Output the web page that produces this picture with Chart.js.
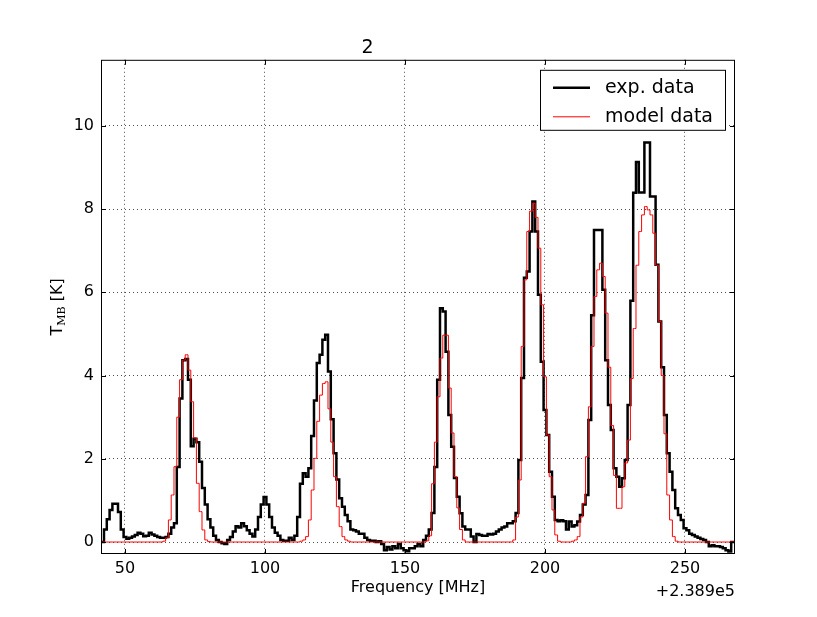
<!DOCTYPE html>
<html>
<head>
<meta charset="utf-8">
<script src="https://cdn.jsdelivr.net/npm/chart.js@4.4.1/dist/chart.umd.min.js"></script>
<style>
  html, body { margin: 0; padding: 0; background: #fff; overflow: hidden; }
</style>
</head>
<body>
<canvas id="spec" width="817" height="617"></canvas>
<script>
// channel frequencies, MHz above 2.389e5
const freq = [
  41, 42, 43, 44, 45, 46, 47, 48, 49, 50,
  51, 52, 53, 54, 55, 56, 57, 58, 59, 60,
  61, 62, 63, 64, 65, 66, 67, 68, 69, 70,
  71, 72, 73, 74, 75, 76, 77, 78, 79, 80,
  81, 82, 83, 84, 85, 86, 87, 88, 89, 90,
  91, 92, 93, 94, 95, 96, 97, 98, 99, 100,
  101, 102, 103, 104, 105, 106, 107, 108, 109, 110,
  111, 112, 113, 114, 115, 116, 117, 118, 119, 120,
  121, 122, 123, 124, 125, 126, 127, 128, 129, 130,
  131, 132, 133, 134, 135, 136, 137, 138, 139, 140,
  141, 142, 143, 144, 145, 146, 147, 148, 149, 150,
  151, 152, 153, 154, 155, 156, 157, 158, 159, 160,
  161, 162, 163, 164, 165, 166, 167, 168, 169, 170,
  171, 172, 173, 174, 175, 176, 177, 178, 179, 180,
  181, 182, 183, 184, 185, 186, 187, 188, 189, 190,
  191, 192, 193, 194, 195, 196, 197, 198, 199, 200,
  201, 202, 203, 204, 205, 206, 207, 208, 209, 210,
  211, 212, 213, 214, 215, 216, 217, 218, 219, 220,
  221, 222, 223, 224, 225, 226, 227, 228, 229, 230,
  231, 232, 233, 234, 235, 236, 237, 238, 239, 240,
  241, 242, 243, 244, 245, 246, 247, 248, 249, 250,
  251, 252, 253, 254, 255, 256, 257, 258, 259, 260,
  261, 262, 263, 264, 265, 266, 267, 268
];

// measured spectrum, T_MB in K
const expData = [
  0.0, 0.0, 0.3, 0.55, 0.77, 0.92, 0.92, 0.72, 0.3, 0.12,
  0.08, 0.1, 0.13, 0.17, 0.22, 0.2, 0.14, 0.15, 0.22, 0.18,
  0.15, 0.12, 0.1, 0.1, 0.12, 0.2, 0.35, 0.45, 1.8, 3.45,
  4.37, 4.4, 3.9, 2.3, 2.48, 2.4, 1.93, 1.3, 0.9, 0.55,
  0.35, 0.15, 0.05, 0.0, -0.03, -0.05, 0.05, 0.12, 0.25, 0.38,
  0.35, 0.45, 0.38, 0.28, 0.2, 0.13, 0.3, 0.6, 0.9, 1.08,
  0.9, 0.6, 0.35, 0.22, 0.15, 0.05, 0.03, 0.03, 0.1, 0.05,
  0.15, 0.6, 1.4, 1.65, 1.57, 1.77, 2.55, 3.4, 4.3, 4.5,
  4.86, 4.98, 4.1, 2.95, 2.13, 1.5, 1.05, 0.85, 0.65, 0.5,
  0.3, 0.28, 0.25, 0.2, 0.2, 0.1, 0.05, 0.03, 0.03, 0.0,
  0.02, -0.05, -0.2, -0.12, -0.18, -0.1, -0.15, -0.05, -0.15, -0.2,
  -0.22, -0.15, -0.15, -0.1, -0.05, -0.1, 0.05, 0.15, 0.3, 0.7,
  1.8, 3.9, 5.62, 5.54, 4.57, 3.05, 2.29, 1.54, 1.09, 0.69,
  0.37, 0.3, 0.3, 0.13, 0.0, 0.19, 0.17, 0.15, 0.15, 0.19,
  0.18, 0.2, 0.25, 0.3, 0.35, 0.37, 0.45, 0.45, 0.5, 0.7,
  1.97, 3.94, 6.35, 6.5, 7.46, 8.18, 7.46, 5.94, 4.33, 3.17,
  2.57, 1.69, 1.09, 0.53, 0.5, 0.52, 0.5, 0.3, 0.49, 0.37,
  0.4, 0.49, 0.65, 0.9, 1.13, 2.93, 5.45, 7.5, 7.5, 7.5,
  6.06, 4.37, 3.29, 2.69, 1.77, 1.57, 1.33, 1.53, 1.97, 3.29,
  5.8, 8.39, 9.13, 8.4, 8.4, 9.6, 9.6, 8.3, 8.3, 6.66,
  5.3, 4.2, 3.05, 2.13, 1.69, 1.25, 0.81, 0.65, 0.53, 0.33,
  0.28, 0.2, 0.17, 0.13, 0.1, 0.07, 0.05, 0.0, -0.1, -0.08,
  -0.1, -0.1, -0.12, -0.15, -0.2, -0.23, 0.0, 0.0
];

// model spectrum
const modelData = [
  0, 0, 0, 0, 0, 0, 0, 0, 0, 0,
  0, 0, 0, 0, 0, 0, 0, 0, 0, 0,
  0, 0, 0, 0.02, 0.1, 0.53, 1.13, 1.81, 3.0, 3.9,
  4.37, 4.5, 4.13, 3.37, 2.5, 1.41, 0.73, 0.29, 0.05, 0.01,
  0, 0, 0, 0, 0, 0, 0, 0, 0, 0,
  0, 0, 0, 0, 0, 0, 0, 0, 0, 0,
  0, 0, 0, 0, 0, 0, 0, 0, 0, 0,
  0, 0, 0.02, 0.05, 0.13, 0.53, 1.25, 2.01, 2.9, 3.53,
  3.81, 3.85, 3.2, 2.4, 1.57, 0.85, 0.37, 0.13, 0.05, 0.02,
  0, 0, 0, 0, 0, 0, 0, 0, 0, 0,
  0, 0, 0, 0, 0, 0, 0, 0, 0, 0,
  0, 0, 0, 0, 0, 0, 0, 0.03, 0.15, 1.4,
  2.4, 3.49, 4.42, 4.97, 4.97, 3.7, 2.62, 1.57, 0.82, 0.3,
  0.05, 0, 0, 0, 0, 0, 0, 0, 0, 0,
  0, 0, 0, 0, 0, 0, 0, 0, 0.05, 0.6,
  1.49, 4.7, 6.3, 7.46, 7.95, 8.14, 7.8, 7.06, 5.7, 3.97,
  2.57, 1.57, 0.77, 0.17, 0.02, 0, 0, 0, 0, 0.02,
  0.05, 0.13, 0.6, 0.93, 2.05, 3.25, 4.7, 5.9, 6.54, 6.7,
  6.38, 5.5, 4.2, 2.8, 1.6, 0.81, 0.81, 1.33, 1.9, 2.45,
  3.93, 5.13, 6.65, 7.46, 7.86, 8.06, 7.98, 7.86, 7.42, 6.65,
  5.3, 4.0, 2.6, 1.13, 0.53, 0.13, 0.02, 0, 0, 0,
  0, 0, 0, 0, 0, 0, 0, 0, 0, 0,
  0, 0, 0, 0, 0, 0, 0, 0
];

const xTicks = [50, 100, 150, 200, 250];
const yTicks = [0, 2, 4, 6, 8, 10];

Chart.defaults.font.family = "'DejaVu Sans', sans-serif";
Chart.defaults.color = '#000';

// frame, inward ticks, legend box, y label and offset text (matplotlib look)
const decor = {
  id: 'decor',
  afterDraw(chart) {
    const { ctx, chartArea: a, scales: { x, y } } = chart;
    ctx.save();
    ctx.strokeStyle = '#000';
    ctx.lineWidth = 1;
    ctx.strokeRect(a.left + 0.5, a.top + 0.5, a.right - a.left - 1, a.bottom - a.top - 1);

    ctx.beginPath();
    xTicks.forEach(v => {
      const px = Math.round(x.getPixelForValue(v)) + 0.5;
      ctx.moveTo(px, a.bottom); ctx.lineTo(px, a.bottom - 5);
      ctx.moveTo(px, a.top); ctx.lineTo(px, a.top + 5);
    });
    yTicks.forEach(v => {
      const py = Math.round(y.getPixelForValue(v)) + 0.5;
      ctx.moveTo(a.left, py); ctx.lineTo(a.left + 5, py);
      ctx.moveTo(a.right, py); ctx.lineTo(a.right - 5, py);
    });
    ctx.stroke();

    // legend
    const lx = a.right - 195, ly = a.top + 10, lw = 185, lh = 60;
    ctx.fillStyle = '#fff';
    ctx.fillRect(lx, ly, lw, lh);
    ctx.strokeRect(lx + 0.5, ly + 0.5, lw, lh);
    chart.data.datasets.forEach((ds, i) => {
      const yy = ly + 18 + i * 29;
      ctx.strokeStyle = ds.borderColor;
      ctx.lineWidth = ds.borderWidth;
      ctx.beginPath();
      ctx.moveTo(lx + 13, yy); ctx.lineTo(lx + 50, yy);
      ctx.stroke();
      ctx.fillStyle = '#000';
      ctx.font = "19px 'DejaVu Sans'";
      ctx.textBaseline = 'middle';
      ctx.textAlign = 'left';
      ctx.fillText(ds.label, lx + 65, yy);
    });

    // y axis label T_MB [K]
    ctx.save();
    ctx.translate(58, (a.top + a.bottom) / 2);
    ctx.rotate(-Math.PI / 2);
    ctx.fillStyle = '#000';
    ctx.textBaseline = 'middle';
    ctx.textAlign = 'left';
    const fMain = "16px 'DejaVu Sans'";
    const fSub = "11px 'DejaVu Serif'";
    ctx.font = fMain; const wT = ctx.measureText('T').width; const wK = ctx.measureText(' [K]').width;
    ctx.font = fSub; const wS = ctx.measureText('MB').width;
    let sx = -(wT + wS + wK) / 2;
    ctx.font = fMain; ctx.fillText('T', sx, 0); sx += wT;
    ctx.font = fSub; ctx.fillText('MB', sx, 4); sx += wS;
    ctx.font = fMain; ctx.fillText(' [K]', sx, 0);
    ctx.restore();

    // axis offset
    ctx.fillStyle = '#000';
    ctx.font = "16px 'DejaVu Sans'";
    ctx.textAlign = 'right';
    ctx.textBaseline = 'middle';
    ctx.fillText('+2.389e5', a.right, a.bottom + 38);
    ctx.restore();
  }
};

new Chart(document.getElementById('spec'), {
  type: 'line',
  data: {
    datasets: [
      {
        label: 'exp. data',
        data: freq.map((f, i) => ({ x: f, y: expData[i] })),
        borderColor: '#000',
        borderWidth: 2.5,
        stepped: 'middle',
        pointRadius: 0,
        fill: false,
        order: 1
      },
      {
        label: 'model data',
        data: freq.map((f, i) => ({ x: f, y: modelData[i] })),
        borderColor: '#ff0000',
        borderWidth: 1,
        stepped: 'middle',
        pointRadius: 0,
        fill: false,
        order: 0
      }
    ]
  },
  options: {
    responsive: false,
    animation: false,
    layout: { padding: { left: 0, right: 82, top: 0, bottom: 20 } },
    plugins: {
      legend: { display: false },
      tooltip: { enabled: false },
      title: {
        display: true,
        text: '2',
        font: { size: 19, weight: 'normal' },
        color: '#000',
        padding: { top: 37, bottom: 0 }
      }
    },
    scales: {
      x: {
        type: 'linear',
        min: 41.43,
        max: 267.86,
        afterBuildTicks: s => { s.ticks = xTicks.map(v => ({ value: v })); },
        afterFit: s => { s.height = 43; },
        ticks: { font: { size: 16 }, color: '#000', padding: 5, maxRotation: 0 },
        grid: { color: '#000', lineWidth: 0.7, drawTicks: false },
        border: { display: false, dash: [1, 3] },
        title: {
          display: true,
          text: 'Frequency [MHz]',
          font: { size: 16 },
          color: '#000',
          padding: { top: 0, bottom: 0 }
        }
      },
      y: {
        type: 'linear',
        min: -0.288,
        max: 11.587,
        afterBuildTicks: s => { s.ticks = yTicks.map(v => ({ value: v })); },
        afterFit: s => { s.width = 101; },
        ticks: { font: { size: 16 }, color: '#000', padding: 7 },
        grid: { color: '#000', lineWidth: 0.7, drawTicks: false },
        border: { display: false, dash: [1, 3] }
      }
    }
  },
  plugins: [decor]
});
</script>
</body>
</html>
